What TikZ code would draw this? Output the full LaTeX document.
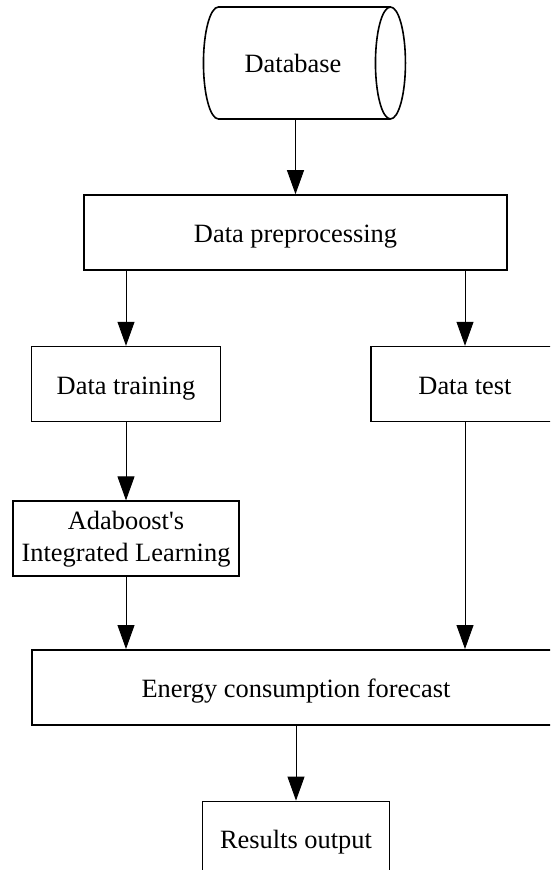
\documentclass[tikz,border=0pt]{standalone}
\usepackage{fontspec}
\setmainfont{Liberation Serif}
\usetikzlibrary{positioning,shapes.geometric,arrows.meta}

\begin{document}
\begin{tikzpicture}[
        x=0.5pt, y=-0.5pt,
        node distance=37.5pt,
        label/.style={font=\fontsize{13.2}{16}\selectfont, text height=10pt, text depth=0pt},
        box/.style={draw, line width=0.8pt, minimum height=37.5pt, inner sep=2pt, align=center, label},
        store/.style={cylinder, draw, line width=0.8pt, aspect=0.9, minimum width=56pt, minimum height=101pt, label},
        link/.style={-{Triangle[length=12pt, width=8.5pt]}, line width=0.45pt}
      ]
      \useasboundingbox (0,0) rectangle (550,870);
      \clip (0,0) rectangle (550,870);

      \node (db) at (293, 63) [store] {Database};
      \node (pre) at (295.5, 232.5) [box, minimum width=211.5pt] {Data preprocessing};
      \node (train) [below=of pre, xshift=-84.75pt, box, minimum width=94.5pt] {Data training};
      \node (test) [below=of pre, xshift=84.75pt, box, minimum width=94pt] {Data test};
      \node (ada) [below=of train, box, minimum width=113pt, text height={}, text depth={}, yshift=-1.5pt] {Adaboost\textquotesingle s\\Integrated Learning};
      \node (energy) [below=of ada, xshift=85pt, yshift=1.5pt, box, minimum width=264pt] {Energy consumption forecast};
      \node (res) [below=of energy, box, minimum width=93.5pt] {Results output};

      \draw[link] (db.south -| pre) -- (pre);
      \draw[link] (pre.south -| train) -- (train);
      \draw[link] (pre.south -| test) -- (test);
      \draw[link] (train) -- (ada);
      \draw[link] (ada) -- (energy.north -| ada);
      \draw[link] (test) -- (energy.north -| test);
      \draw[link] (energy) -- (res);
    \end{tikzpicture}
\end{document}
